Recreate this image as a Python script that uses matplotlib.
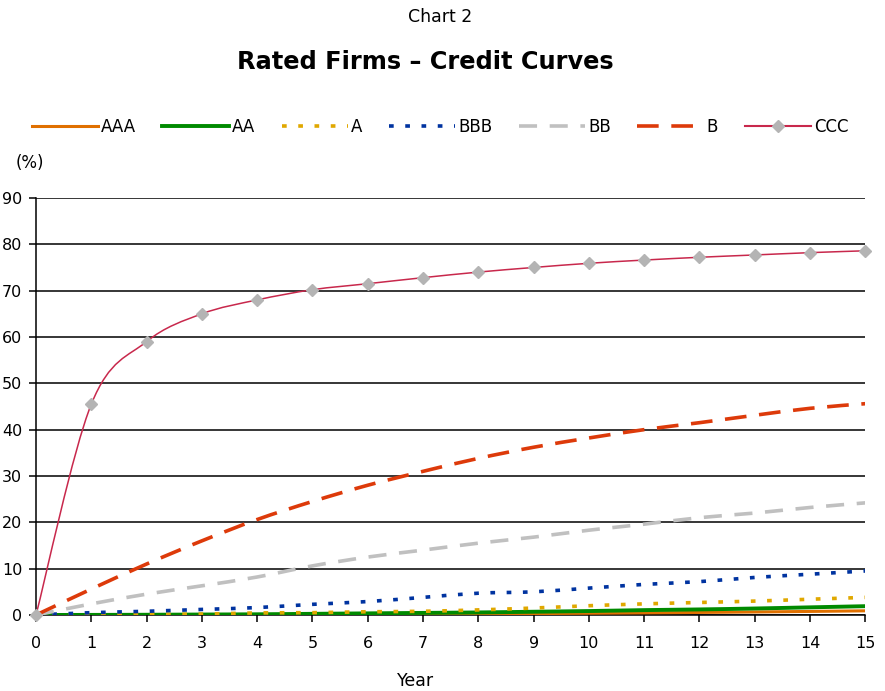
import numpy as np
import matplotlib.pyplot as plt
from matplotlib.path import Path
from matplotlib.patches import PathPatch
from matplotlib.lines import Line2D

plt.rcParams['font.family'] = ['DejaVu Sans']

years = list(range(16))
aaa = [0, 0, 0, 0.02, 0.05, 0.08, 0.12, 0.17, 0.22, 0.3, 0.38, 0.46, 0.55, 0.65, 0.77, 0.9]
aa = [0, 0.02, 0.05, 0.1, 0.15, 0.25, 0.35, 0.45, 0.55, 0.7, 0.85, 1.05, 1.2, 1.4, 1.65, 1.9]
a = [0, 0.05, 0.15, 0.2, 0.45, 0.5, 0.7, 0.8, 1.1, 1.5, 2.0, 2.4, 2.7, 3.0, 3.4, 3.8]
bbb = [0, 0.5, 0.8, 1.2, 1.6, 2.3, 2.9, 3.8, 4.7, 5.0, 5.8, 6.6, 7.2, 8.1, 8.8, 9.5]
bb = [0, 2.4, 4.5, 6.3, 8.2, 10.6, 12.5, 14.0, 15.5, 16.8, 18.3, 19.6, 21.0, 22.0, 23.2, 24.2]
b = [0, 5.6, 11.0, 16.0, 20.6, 24.5, 28.0, 31.0, 33.8, 36.2, 38.2, 40.0, 41.5, 43.1, 44.6, 45.6]
ccc = [0, 45.5, 59.0, 65.0, 68.0, 70.2, 71.5, 72.8, 74.0, 75.0, 75.9, 76.6, 77.2, 77.7, 78.2, 78.6]
labels = ['AAA', 'AA', 'A', 'BBB', 'BB', 'B', 'CCC']

styles = [
    dict(color='#E07000', lw=2.2, ls='-'),
    dict(color='#008A00', lw=2.8, ls='-'),
    dict(color='#E0A800', lw=2.6, ls=(0, (1.3, 3.2))),
    dict(color='#0033A0', lw=2.6, ls=(0, (1.3, 3.2))),
    dict(color='#C0C0C0', lw=2.6, ls=(0, (5, 3.5))),
    dict(color='#DD3A0A', lw=2.6, ls=(0, (6, 3.5))),
    dict(color='#C8284C', lw=1.1, ls='-'),
]


def smooth_path(x, y):
    # Catmull-Rom spline through the points, as cubic Bezier segments
    p = np.column_stack([x, y]).astype(float)
    ext = np.vstack([p[0], p, p[-1]])
    verts = [p[0]]
    codes = [Path.MOVETO]
    for i in range(len(p) - 1):
        p0, p1, p2, p3 = ext[i], ext[i + 1], ext[i + 2], ext[i + 3]
        c1 = p1 + (p2 - p0) / 6
        c2 = p2 - (p3 - p1) / 6
        verts += [c1, c2, p2]
        codes += [Path.CURVE4] * 3
    return Path(verts, codes)


fig = plt.figure(figsize=(8.85, 6.91), dpi=100)
ax = fig.add_axes([0.0407, 0.110, 0.937, 0.6035])

for series, st in zip([aaa, aa, a, bbb, bb, b, ccc], styles):
    ax.add_patch(PathPatch(smooth_path(years, series), fill=False,
                           edgecolor=st['color'], lw=st['lw'], ls=st['ls'],
                           capstyle='butt', zorder=3))
ax.plot(years, ccc, ls='none', marker='D', ms=6.5, color='#B4B4B4',
        markeredgecolor='#B4B4B4', zorder=4, clip_on=False)

ax.set_xlim(0, 15)
ax.set_ylim(0, 90)
ax.set_xticks(range(16))
ax.set_yticks(range(0, 91, 10))
ax.yaxis.grid(True, color='black', lw=1.1)
ax.set_axisbelow(True)
for s in ['top', 'right']:
    ax.spines[s].set_visible(False)
for s in ['left', 'bottom']:
    ax.spines[s].set_linewidth(1.1)
ax.tick_params(axis='both', direction='out', length=5, width=1.1, labelsize=11.5, pad=5)
ax.tick_params(axis='x', pad=10)

fig.text(0.497, 0.975, 'Chart 2', ha='center', va='center', fontsize=12.5)
fig.text(0.481, 0.910, 'Rated Firms \u2013 Credit Curves', ha='center', va='center',
         fontsize=17.3, fontweight='bold')
fig.text(0.018, 0.764, '(%)', ha='left', va='center', fontsize=12)
fig.text(0.469, 0.015, 'Year', ha='center', va='center', fontsize=12.5)

handles = []
for lab, st in zip(labels, styles):
    if lab == 'CCC':
        handles.append(Line2D([], [], color=st['color'], lw=1.5, marker='D', ms=6,
                              markerfacecolor='#B4B4B4', markeredgecolor='#B4B4B4'))
    else:
        handles.append(Line2D([], [], color=st['color'], lw=st['lw'], ls=st['ls']))
fig.legend(handles, labels, loc='center', bbox_to_anchor=(0.497, 0.816), ncol=7,
           frameon=False, fontsize=12, handlelength=4.0, handletextpad=0.15,
           columnspacing=1.6)

fig.savefig('out.png', dpi=100)
